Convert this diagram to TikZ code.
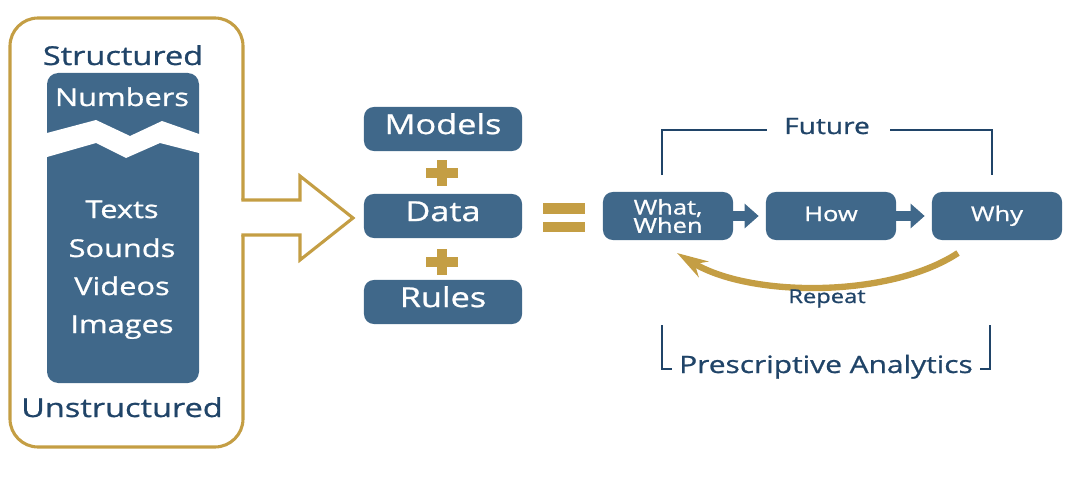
\documentclass[tikz,border=0pt]{standalone}
\usepackage{fontspec}
\setmainfont{Open Sans}[FakeStretch=1.25,UprightFeatures={FakeBold=0.9}]
\usetikzlibrary{arrows.meta}
\definecolor{boxblue}{RGB}{64,104,138}
\definecolor{navy}{RGB}{32,68,104}
\definecolor{gold}{RGB}{196,158,68}
\newcommand{\fs}[1]{\fontsize{#1}{#1}\selectfont}

\begin{document}
\begin{tikzpicture}[x=0.025cm, y=-0.025cm,
    every node/.style={text=navy, inner sep=0pt},
    bluebox/.style={fill=boxblue, text=white, rounded corners=7pt, text height=0.72em, text depth=0pt},
    midbox/.style={bluebox, minimum width=3.95cm, minimum height=1.1cm, font=\fs{19.5}},
    stepbox/.style={bluebox, minimum width=3.25cm, minimum height=1.2cm, font=\fs{14.5}},
    leftlabel/.style={font=\fs{17.5}, text=white, anchor=base}]

    \useasboundingbox (0,0) rectangle (1080,479);

    % Left block
    \draw[gold, line width=2.2pt, rounded corners=20] (243,235) -- (243,447) -- (10,447) -- (10,18) -- (243,18) -- (243,200);
    \draw[gold, line width=2.2pt, line cap=rect] (243,200) -- (300,200) -- (300,176) -- (353,218) -- (300,260) -- (300,235) -- (243,235);
    \fill[boxblue, rounded corners=8pt] (47,73) rectangle (199,383);
    \fill[white] (44,133) -- (47,133) -- (96,120) -- (130,136) -- (162,121) -- (199,134) -- (202,134) -- (202,153) -- (199,153) -- (160,143) -- (126,158) -- (96,143) -- (47,157) -- (44,157) -- cycle;
    \node[font=\fs{18.5}, anchor=base] (St) at (123,65) {Structured};
    \node[font=\fs{18.5}, anchor=base] (Un) at (122,417) {Unstructured};
    \node[leftlabel] (Num) at (122,106) {Numbers};
    \node[leftlabel] (Tex) at (122,218) {Texts};
    \node[leftlabel] (Sou) at (122,257) {Sounds};
    \node[leftlabel] (Vid) at (122,295) {Videos};
    \node[leftlabel] (Img) at (122,333) {Images};

    % Models + Data + Rules
    \node[midbox] (Models) at (443,129) {Models};
    \node[midbox] (Data) at (443,216) {Data};
    \node[midbox] (Rules) at (443,302) {Rules};
    \fill[gold] (426,168) rectangle (458,178);
    \fill[gold] (437,160) rectangle (447,186);
    \fill[gold] (426,257) rectangle (458,267);
    \fill[gold] (437,249) rectangle (447,275);
    \fill[gold] (543,203) rectangle (585,214);
    \fill[gold] (543,222) rectangle (585,232);

    % Steps
    \node[stepbox, text height={}, text depth={}, align=center, font=\fontsize{14.5}{13}\selectfont] (WW) at (668,216) {What,\\When};
    \node[stepbox] (How) at (831,216) {How};
    \node[stepbox] (Why) at (997,216) {Why};
    \draw[boxblue, line width=7pt, -{Triangle[width=17pt,length=10pt]}] (WW.east) -- ([xshift=-5pt]How.west);
    \draw[boxblue, line width=7pt, -{Triangle[width=17pt,length=10pt]}] (How.east) -- ([xshift=-5pt]Why.west);

    % Repeat
    \coordinate (r1) at (958,253);
    \coordinate (r2) at (677,253);
    \draw[gold, line width=4.5pt, -{Stealth[length=22pt,width=13pt]}] (r1) .. controls (890,298) and (750,298) .. (r2);
    \node[font=\fs{13.5}, anchor=base] (Rep) at (827,303) {Repeat};

    % Brackets
    \node[font=\fs{16}, anchor=base] (Fut) at (827,134) {Future};
    \draw[navy, line width=1.6pt] (662,175) |- (767,130);
    \draw[navy, line width=1.6pt] (890,130) -| (992,175);
    \node[font=\fs{17}, anchor=base] (PA) at (826,373) {Prescriptive Analytics};
    \draw[navy, line width=1.6pt] (662,325) |- (672,369);
    \draw[navy, line width=1.6pt] (990,325) |- (980,369);

\end{tikzpicture}
\end{document}
